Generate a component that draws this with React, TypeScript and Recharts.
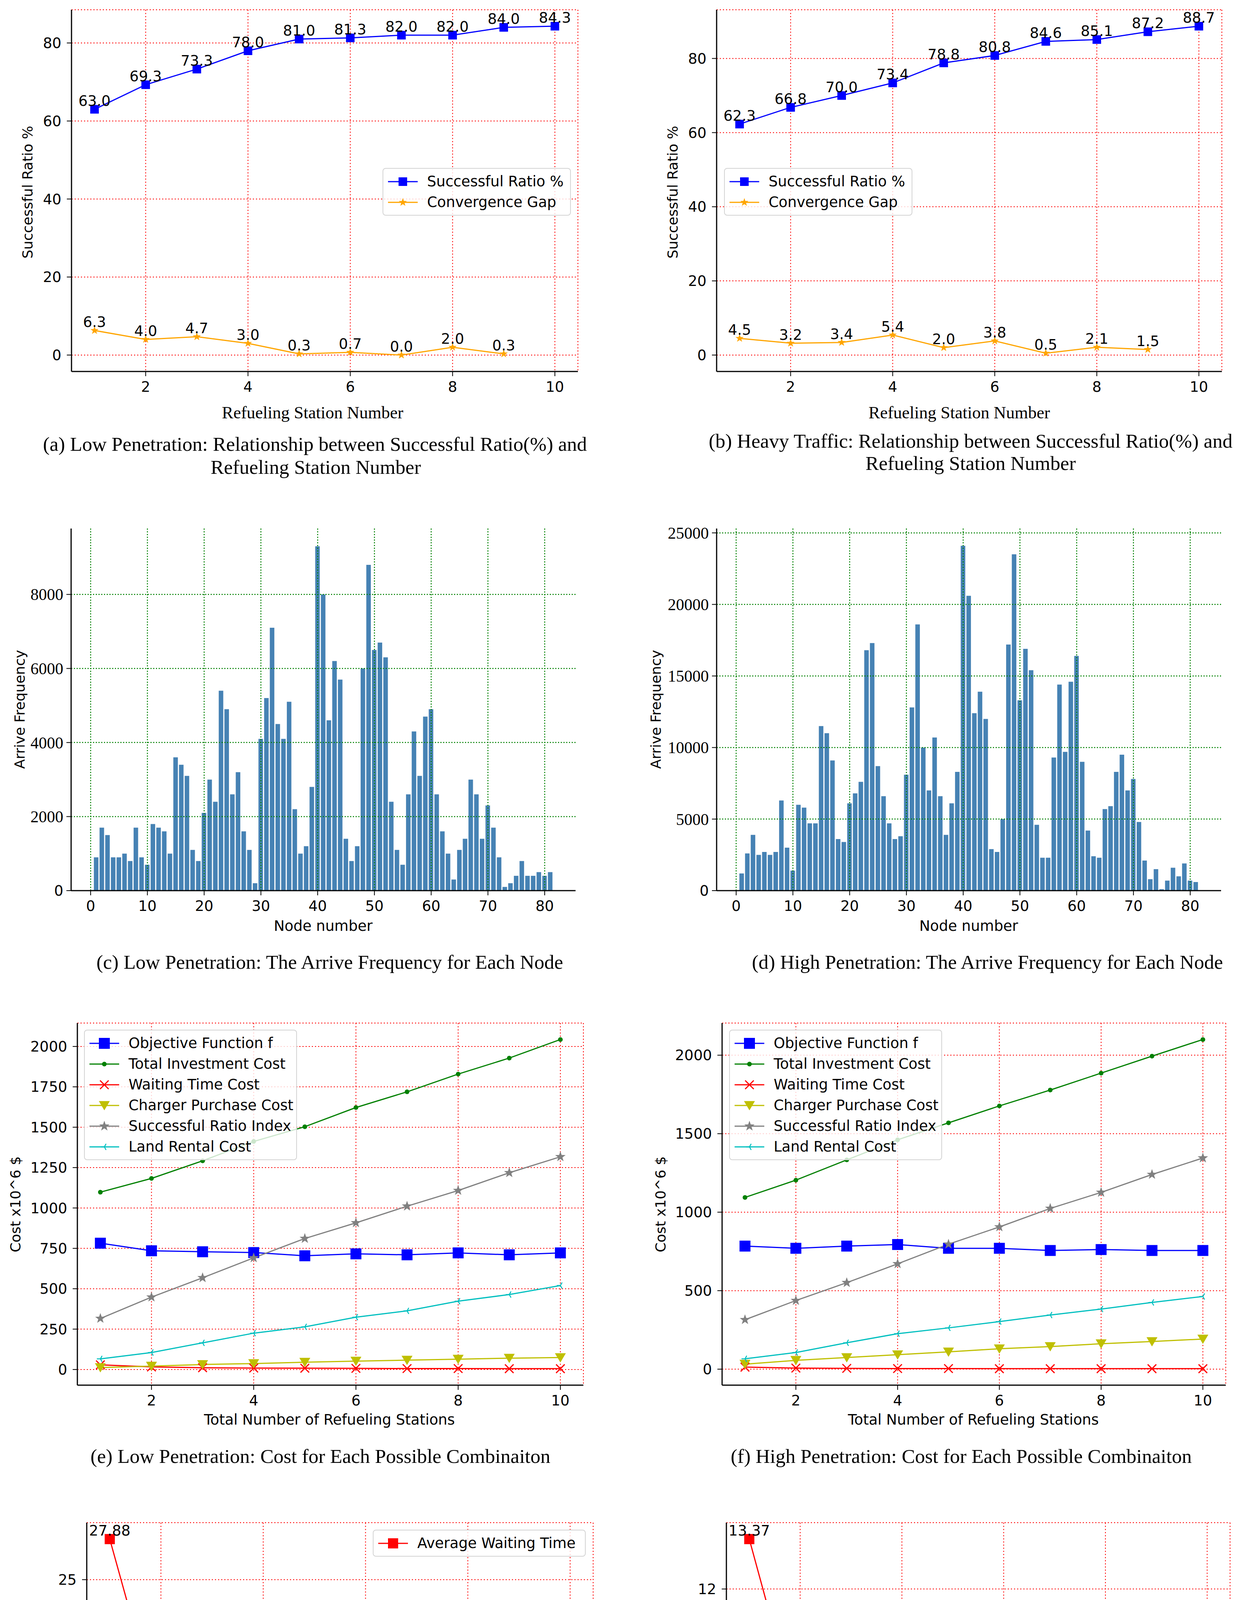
import React from "react";
import {
  LineChart,
  Line,
  BarChart,
  Bar,
  XAxis,
  YAxis,
  CartesianGrid,
  ReferenceLine,
  LabelList,
  Legend,
} from "recharts";

const SANS = "'DejaVu Sans', sans-serif";
const SERIF = "'Liberation Serif', 'Times New Roman', serif";

// ---------- data ----------
const stations = [1, 2, 3, 4, 5, 6, 7, 8, 9, 10];
const stationTicks = [2, 4, 6, 8, 10];

// (a) low penetration / (b) heavy traffic
const lowRatio = [63.0, 69.3, 73.3, 78.0, 81.0, 81.3, 82.0, 82.0, 84.0, 84.3];
const lowGap = [6.3, 4.0, 4.7, 3.0, 0.3, 0.7, 0.0, 2.0, 0.3, null];
const heavyRatio = [62.3, 66.8, 70.0, 73.4, 78.8, 80.8, 84.6, 85.1, 87.2, 88.7];
const heavyGap = [4.5, 3.2, 3.4, 5.4, 2.0, 3.8, 0.5, 2.1, 1.5, null];
const ratioTicks = [0, 20, 40, 60, 80];

// (c) / (d) arrive frequency per node
const nodes = [
  1, 2, 3, 4, 5, 6, 7, 8, 9, 10, 11, 12, 13, 14, 15, 16, 17, 18, 19, 20,
  21, 22, 23, 24, 25, 26, 27, 28, 29, 30, 31, 32, 33, 34, 35, 36, 37, 38, 39, 40,
  41, 42, 43, 44, 45, 46, 47, 48, 49, 50, 51, 52, 53, 54, 55, 56, 57, 58, 59, 60,
  61, 62, 63, 64, 65, 66, 67, 68, 69, 70, 71, 72, 73, 74, 75, 76, 77, 78, 79, 80, 81,
];
const lowArrive = [
  900, 1700, 1500, 900, 900, 1000, 800, 1700, 900, 700,
  1800, 1700, 1600, 1000, 3600, 3400, 3100, 1100, 800, 2100,
  3000, 2400, 5400, 4900, 2600, 3200, 1600, 1100, 200, 4100,
  5200, 7100, 4500, 4100, 5100, 2200, 1000, 1200, 2800, 9300,
  8000, 4600, 6200, 5700, 1400, 800, 1200, 6000, 8800, 6500,
  6700, 6300, 2400, 1100, 700, 2600, 4300, 3100, 4700, 4900,
  2600, 1600, 1000, 300, 1100, 1400, 3000, 2600, 1400, 2300,
  1700, 900, 100, 200, 400, 800, 400, 400, 500, 400, 500,
];
const highArrive = [
  1200, 2600, 3900, 2500, 2700, 2500, 2700, 6300, 3000, 1400,
  6000, 5800, 4700, 4700, 11500, 11000, 9100, 3600, 3400, 6100,
  6800, 7600, 16800, 17300, 8700, 6600, 4700, 3600, 3800, 8100,
  12800, 18600, 10000, 7000, 10700, 6600, 3900, 6100, 8300, 24100,
  20600, 12400, 13900, 12000, 2900, 2700, 5000, 17200, 23500, 13300,
  16900, 15400, 4600, 2300, 2300, 9300, 14400, 9700, 14600, 16400,
  9000, 4200, 2400, 2300, 5700, 5900, 8300, 9500, 7000, 7800,
  4800, 2100, 800, 1500, 100, 700, 1600, 1000, 1900, 700, 600,
];
const nodeTicks = [0, 10, 20, 30, 40, 50, 60, 70, 80];
const lowFreqTicks = [0, 2000, 4000, 6000, 8000];
const highFreqTicks = [0, 5000, 10000, 15000, 20000, 25000];

// (e) / (f) costs
const lowObjective = [782, 735, 729, 724, 704, 716, 710, 722, 710, 722];
const lowInvestment = [1098, 1183, 1292, 1412, 1503, 1622, 1719, 1829, 1928, 2043];
const lowWaitingCost = [29, 16, 11, 9, 8, 7, 6, 6, 5, 5];
const lowCharger = [12, 21, 31, 37, 45, 52, 58, 64, 70, 74];
const lowSuccessIndex = [316, 448, 568, 691, 811, 908, 1011, 1108, 1218, 1317];
const lowLandRental = [66, 105, 165, 225, 264, 324, 363, 423, 464, 520];

const highObjective = [784, 770, 784, 794, 770, 770, 756, 762, 756, 756];
const highInvestment = [1094, 1204, 1333, 1461, 1569, 1677, 1778, 1886, 1994, 2100];
const highWaitingCost = [13, 7, 5, 4, 4, 3, 3, 3, 3, 3];
const highCharger = [32, 56, 74, 92, 110, 130, 144, 162, 176, 192];
const highSuccessIndex = [315, 437, 551, 671, 796, 906, 1024, 1126, 1240, 1345];
const highLandRental = [66, 106, 168, 226, 263, 303, 345, 383, 425, 463];

const lowCostTicks = [0, 250, 500, 750, 1000, 1250, 1500, 1750, 2000];
const highCostTicks = [0, 500, 1000, 1500, 2000];

// (g) / (h) average waiting time
const lowWaitTime = [27.88, 14.81, 10.58, 8.53, 7.27, 6.39, 5.74, 5.24, 4.85, 4.54];
const highWaitTime = [13.37, 8.25, 6.67, 5.88, 5.4, 5.06, 4.81, 4.61, 4.46, 4.34];
const lowWaitTicks = [5, 10, 15, 20, 25];
const highWaitTicks = [4, 6, 8, 10, 12];

// ---------- layout ----------
const PAD = { l: 170, t: 20, r: 40, b: 70 };
const X_DOMAIN = [0.55, 10.45];
const NODE_DOMAIN = [-3.44, 85.44];

const axisLine = { stroke: "#000", strokeWidth: 3 };
const tickLine = { stroke: "#000", strokeWidth: 2 };
const tickFont = { fontSize: 37, fill: "#000", fontFamily: SANS };

function frameOf(plot: number[]) {
  const [x0, y0, x1, y1] = plot;
  return {
    left: x0 - PAD.l,
    top: y0 - PAD.t,
    width: x1 - x0 + PAD.l + PAD.r,
    height: y1 - y0 + PAD.t + PAD.b,
  };
}

function starPoints(cx: number, cy: number, R: number) {
  const pts: string[] = [];
  for (let i = 0; i < 10; i++) {
    const r = i % 2 === 0 ? R : R * 0.4;
    const a = -Math.PI / 2 + (i * Math.PI) / 5;
    pts.push(`${cx + r * Math.cos(a)},${cy + r * Math.sin(a)}`);
  }
  return pts.join(" ");
}

function Marker({ kind, cx, cy, size, color }: any) {
  const h = size / 2;
  if (kind === "square")
    return <rect x={cx - h} y={cy - h} width={size} height={size} fill={color} />;
  if (kind === "dot") return <circle cx={cx} cy={cy} r={h} fill={color} />;
  if (kind === "x")
    return (
      <g stroke={color} strokeWidth={3}>
        <line x1={cx - h} y1={cy - h} x2={cx + h} y2={cy + h} />
        <line x1={cx - h} y1={cy + h} x2={cx + h} y2={cy - h} />
      </g>
    );
  if (kind === "vtri")
    return (
      <polygon
        points={`${cx - h},${cy - h * 0.8} ${cx + h},${cy - h * 0.8} ${cx},${cy + h * 0.9}`}
        fill={color}
      />
    );
  if (kind === "star") return <polygon points={starPoints(cx, cy, h)} fill={color} />;
  if (kind === "tri")
    return (
      <g stroke={color} strokeWidth={2.5}>
        <line x1={cx} y1={cy} x2={cx - h} y2={cy} />
        <line x1={cx} y1={cy} x2={cx + h * 0.5} y2={cy - h * 0.87} />
        <line x1={cx} y1={cy} x2={cx + h * 0.5} y2={cy + h * 0.87} />
      </g>
    );
  return null;
}

const dotOf = (kind: string, size: number, color: string) => (p: any) => {
  if (typeof p.cy !== "number" || isNaN(p.cy) || p.value == null)
    return <g key={`d${p.index}`} />;
  return <Marker key={`d${p.index}`} kind={kind} cx={p.cx} cy={p.cy} size={size} color={color} />;
};

const valueLabel = (fmt: (v: number) => string) => (p: any) => {
  const { x, y, value } = p;
  if (value == null || typeof x !== "number" || typeof y !== "number") return null;
  return (
    <text x={x} y={y - 9} textAnchor="middle" fontSize={37} fontFamily={SANS} fill="#000">
      {fmt(value)}
    </text>
  );
};

function LegendBox({ items, width }: any) {
  return (
    <div
      style={{
        background: "rgba(255,255,255,0.8)",
        border: "2px solid #d4d4d4",
        borderRadius: 8,
        padding: "6px 12px",
        width,
        boxSizing: "border-box",
      }}
    >
      {items.map((it: any) => (
        <div key={it.label} style={{ display: "flex", alignItems: "center", height: 53 }}>
          <svg width={76} height={40} style={{ flex: "none" }}>
            <line x1={0} y1={20} x2={76} y2={20} stroke={it.color} strokeWidth={3} />
            <Marker kind={it.marker} cx={38} cy={20} size={it.size} color={it.color} />
          </svg>
          <span
            style={{
              marginLeft: 24,
              fontFamily: SANS,
              fontSize: 37,
              color: "#000",
              whiteSpace: "nowrap",
            }}
          >
            {it.label}
          </span>
        </div>
      ))}
    </div>
  );
}

function Txt({ x, y, size, font = SANS, rotate = false, children }: any) {
  return (
    <div
      style={{
        position: "absolute",
        left: x,
        top: y,
        transform: `translate(-50%, -50%)${rotate ? " rotate(-90deg)" : ""}`,
        fontFamily: font,
        fontSize: size,
        lineHeight: 1,
        whiteSpace: "nowrap",
        color: "#000",
      }}
    >
      {children}
    </div>
  );
}

// ---------- charts ----------
function RatioChart({ plot, ratio, gap, yDomain, legend }: any) {
  const f = frameOf(plot);
  const data = stations.map((s, i) => ({ x: s, ratio: ratio[i], gap: gap[i] }));
  const items = [
    { label: "Successful Ratio %", color: "#0000ff", marker: "square", size: 22 },
    { label: "Convergence Gap", color: "#ffa500", marker: "star", size: 22 },
  ];
  return (
    <div style={{ position: "absolute", left: f.left, top: f.top }}>
      <LineChart
        width={f.width}
        height={f.height}
        data={data}
        margin={{ top: PAD.t, right: PAD.r, left: 0, bottom: 0 }}
      >
        <CartesianGrid stroke="#ff0000" strokeDasharray="3 5" strokeWidth={2} />
        <XAxis dataKey="x" type="number" domain={X_DOMAIN} ticks={stationTicks} allowDataOverflow
          height={PAD.b} tick={tickFont} tickSize={12} tickMargin={14} axisLine={axisLine}
          tickLine={tickLine} interval={0} />
        <XAxis xAxisId="top" orientation="top" dataKey="x" type="number" domain={X_DOMAIN}
          allowDataOverflow height={0} tick={false} tickLine={false} axisLine={axisLine} />
        <YAxis type="number" domain={yDomain} ticks={ratioTicks} allowDataOverflow width={PAD.l}
          tick={tickFont} tickSize={12} tickMargin={14} axisLine={axisLine} tickLine={tickLine}
          interval={0} />
        <YAxis yAxisId="right" orientation="right" type="number" domain={yDomain}
          allowDataOverflow width={0} tick={false} tickLine={false} axisLine={axisLine} />
        <Line dataKey="ratio" stroke="#0000ff" strokeWidth={3} isAnimationActive={false}
          dot={dotOf("square", 22, "#0000ff")} activeDot={false}>
          <LabelList dataKey="ratio" content={valueLabel((v) => v.toFixed(1))} />
        </Line>
        <Line dataKey="gap" stroke="#ffa500" strokeWidth={3} isAnimationActive={false}
          dot={dotOf("star", 22, "#ffa500")} activeDot={false}>
          <LabelList dataKey="gap" content={valueLabel((v) => v.toFixed(1))} />
        </Line>
        <Legend verticalAlign="middle" layout="horizontal"
          wrapperStyle={{ left: legend[0] - f.left, top: legend[1] - f.top, width: 482 }}
          content={() => <LegendBox items={items} width={482} />} />
      </LineChart>
    </div>
  );
}

function FreqTick(props: any) {
  const { x, y, payload } = props;
  const zero = payload.value === 0;
  return (
    <text x={x} y={y} dy="0.35em" textAnchor="end" fill="#000"
      fontFamily={zero ? SANS : SERIF} fontSize={zero ? 37 : 42}>
      {payload.value}
    </text>
  );
}

function FreqChart({ plot, values, yDomain, yTicks }: any) {
  const f = frameOf(plot);
  const data = nodes.map((n, i) => ({ x: n, v: values[i] }));
  const barW = ((plot[2] - plot[0]) / (NODE_DOMAIN[1] - NODE_DOMAIN[0])) * 0.8;
  const gridStyle = { stroke: "#008000", strokeDasharray: "3 4", strokeWidth: 2.5 };
  return (
    <div style={{ position: "absolute", left: f.left, top: f.top }}>
      <BarChart
        width={f.width}
        height={f.height}
        data={data}
        margin={{ top: PAD.t, right: PAD.r, left: 0, bottom: 0 }}
      >
        <XAxis dataKey="x" type="number" domain={NODE_DOMAIN} ticks={nodeTicks} allowDataOverflow
          height={PAD.b} tick={tickFont} tickSize={12} tickMargin={14} axisLine={axisLine}
          tickLine={tickLine} interval={0} />
        <XAxis xAxisId="top" orientation="top" dataKey="x" type="number" domain={NODE_DOMAIN}
          allowDataOverflow height={0} tick={false} tickLine={false} axisLine={axisLine} />
        <YAxis type="number" domain={yDomain} ticks={yTicks} allowDataOverflow width={PAD.l}
          tick={<FreqTick />} tickSize={12} tickMargin={8} axisLine={axisLine} tickLine={tickLine}
          interval={0} />
        <YAxis yAxisId="right" orientation="right" type="number" domain={yDomain}
          allowDataOverflow width={0} tick={false} tickLine={false} axisLine={axisLine} />
        <Bar dataKey="v" fill="#4682b4" barSize={barW} isAnimationActive={false} />
        {nodeTicks.map((t) => (
          <ReferenceLine key={`vx${t}`} x={t} {...gridStyle} />
        ))}
        {yTicks.filter((t: number) => t > 0).map((t: number) => (
          <ReferenceLine key={`hy${t}`} y={t} {...gridStyle} />
        ))}
      </BarChart>
    </div>
  );
}

function CostChart({ plot, series, yDomain, yTicks, legend }: any) {
  const f = frameOf(plot);
  const data = stations.map((s, i) => ({
    x: s,
    obj: series.obj[i],
    inv: series.inv[i],
    wait: series.wait[i],
    charger: series.charger[i],
    success: series.success[i],
    land: series.land[i],
  }));
  const items = [
    { key: "obj", label: "Objective Function f", color: "#0000ff", marker: "square", size: 28 },
    { key: "inv", label: "Total Investment Cost", color: "#008000", marker: "dot", size: 12 },
    { key: "wait", label: "Waiting Time Cost", color: "#ff0000", marker: "x", size: 22 },
    { key: "charger", label: "Charger Purchase Cost", color: "#bfbf00", marker: "vtri", size: 28 },
    { key: "success", label: "Successful Ratio Index", color: "#808080", marker: "star", size: 28 },
    { key: "land", label: "Land Rental Cost", color: "#00bfbf", marker: "tri", size: 18 },
  ];
  return (
    <div style={{ position: "absolute", left: f.left, top: f.top }}>
      <LineChart
        width={f.width}
        height={f.height}
        data={data}
        margin={{ top: PAD.t, right: PAD.r, left: 0, bottom: 0 }}
      >
        <CartesianGrid stroke="#ff0000" strokeDasharray="3 5" strokeWidth={2} />
        <XAxis dataKey="x" type="number" domain={X_DOMAIN} ticks={stationTicks} allowDataOverflow
          height={PAD.b} tick={tickFont} tickSize={12} tickMargin={14} axisLine={axisLine}
          tickLine={tickLine} interval={0} />
        <XAxis xAxisId="top" orientation="top" dataKey="x" type="number" domain={X_DOMAIN}
          allowDataOverflow height={0} tick={false} tickLine={false} axisLine={axisLine} />
        <YAxis type="number" domain={yDomain} ticks={yTicks} allowDataOverflow width={PAD.l}
          tick={tickFont} tickSize={12} tickMargin={14} axisLine={axisLine} tickLine={tickLine}
          interval={0} />
        <YAxis yAxisId="right" orientation="right" type="number" domain={yDomain}
          allowDataOverflow width={0} tick={false} tickLine={false} axisLine={axisLine} />
        {items.map((it) => (
          <Line key={it.key} dataKey={it.key} stroke={it.color} strokeWidth={3}
            isAnimationActive={false} dot={dotOf(it.marker, it.size, it.color)} activeDot={false} />
        ))}
        <Legend verticalAlign="middle" layout="horizontal"
          wrapperStyle={{ left: legend[0] - f.left, top: legend[1] - f.top, width: 545 }}
          content={() => <LegendBox items={items} width={545} />} />
      </LineChart>
    </div>
  );
}

function WaitChart({ plot, values, yDomain, yTicks, legend }: any) {
  const f = frameOf(plot);
  const data = stations.map((s, i) => ({ x: s, wait: values[i] }));
  const items = [{ label: "Average Waiting Time", color: "#ff0000", marker: "square", size: 26 }];
  return (
    <div style={{ position: "absolute", left: f.left, top: f.top }}>
      <LineChart
        width={f.width}
        height={f.height}
        data={data}
        margin={{ top: PAD.t, right: PAD.r, left: 0, bottom: 0 }}
      >
        <CartesianGrid stroke="#ff0000" strokeDasharray="3 5" strokeWidth={2} />
        <XAxis dataKey="x" type="number" domain={X_DOMAIN} ticks={stationTicks} allowDataOverflow
          height={PAD.b} tick={tickFont} tickSize={12} tickMargin={14} axisLine={axisLine}
          tickLine={tickLine} interval={0} />
        <XAxis xAxisId="top" orientation="top" dataKey="x" type="number" domain={X_DOMAIN}
          allowDataOverflow height={0} tick={false} tickLine={false} axisLine={axisLine} />
        <YAxis type="number" domain={yDomain} ticks={yTicks} allowDataOverflow width={PAD.l}
          tick={tickFont} tickSize={12} tickMargin={14} axisLine={axisLine} tickLine={tickLine}
          interval={0} />
        <YAxis yAxisId="right" orientation="right" type="number" domain={yDomain}
          allowDataOverflow width={0} tick={false} tickLine={false} axisLine={axisLine} />
        <Line dataKey="wait" stroke="#ff0000" strokeWidth={3} isAnimationActive={false}
          dot={dotOf("square", 26, "#ff0000")} activeDot={false}>
          <LabelList dataKey="wait" content={valueLabel((v) => String(v))} />
        </Line>
        <Legend verticalAlign="middle" layout="horizontal"
          wrapperStyle={{ left: legend[0] - f.left, top: legend[1] - f.top, width: 545 }}
          content={() => <LegendBox items={items} width={545} />} />
      </LineChart>
    </div>
  );
}

export default function App() {
  const CAP = 51;
  return (
    <div
      style={{
        position: "relative",
        margin: -8,
        width: 3176,
        height: 5084,
        background: "#fff",
        overflow: "hidden",
      }}
    >
      {/* (a) */}
      <RatioChart plot={[183, 25, 1479, 951]} ratio={lowRatio} gap={lowGap}
        yDomain={[-4.215, 88.515]} legend={[979, 430]} />
      <Txt x={71} y={492} size={36} rotate>Successful Ratio %</Txt>
      <Txt x={800} y={1057} size={44} font={SERIF}>Refueling Station Number</Txt>
      <Txt x={806} y={1137} size={CAP} font={SERIF}>
        (a) Low Penetration: Relationship between Successful Ratio(%) and
      </Txt>
      <Txt x={808} y={1196} size={CAP} font={SERIF}>Refueling Station Number</Txt>

      {/* (b) */}
      <RatioChart plot={[1834, 25, 3127, 951]} ratio={heavyRatio} gap={heavyGap}
        yDomain={[-4.435, 93.135]} legend={[1853, 430]} />
      <Txt x={1722} y={492} size={36} rotate>Successful Ratio %</Txt>
      <Txt x={2455} y={1057} size={44} font={SERIF}>Refueling Station Number</Txt>
      <Txt x={2484} y={1129} size={CAP} font={SERIF}>
        (b) Heavy Traffic: Relationship between Successful Ratio(%) and
      </Txt>
      <Txt x={2484} y={1186} size={CAP} font={SERIF}>Refueling Station Number</Txt>

      {/* (c) */}
      <FreqChart plot={[182, 1353, 1473, 2280]} values={lowArrive} yDomain={[0, 9780]}
        yTicks={lowFreqTicks} />
      <Txt x={51} y={1816} size={36} rotate>Arrive Frequency</Txt>
      <Txt x={827} y={2370} size={37}>Node number</Txt>
      <Txt x={844} y={2463} size={CAP} font={SERIF}>
        (c) Low Penetration: The Arrive Frequency for Each Node
      </Txt>

      {/* (d) */}
      <FreqChart plot={[1834, 1353, 3125, 2280]} values={highArrive} yDomain={[0, 25305]}
        yTicks={highFreqTicks} />
      <Txt x={1679} y={1816} size={36} rotate>Arrive Frequency</Txt>
      <Txt x={2479} y={2370} size={37}>Node number</Txt>
      <Txt x={2527} y={2463} size={CAP} font={SERIF}>
        (d) High Penetration: The Arrive Frequency for Each Node
      </Txt>

      {/* (e) */}
      <CostChart plot={[198, 2619, 1493, 3546]}
        series={{ obj: lowObjective, inv: lowInvestment, wait: lowWaitingCost,
          charger: lowCharger, success: lowSuccessIndex, land: lowLandRental }}
        yDomain={[-96.9, 2144.9]} yTicks={lowCostTicks} legend={[215, 2636]} />
      <Txt x={40} y={3083} size={36} rotate>Cost x10^6 $</Txt>
      <Txt x={843} y={3634} size={37}>Total Number of Refueling Stations</Txt>
      <Txt x={820} y={3728} size={CAP} font={SERIF}>
        (e) Low Penetration: Cost for Each Possible Combinaiton
      </Txt>

      {/* (f) */}
      <CostChart plot={[1848, 2619, 3137, 3546]}
        series={{ obj: highObjective, inv: highInvestment, wait: highWaitingCost,
          charger: highCharger, success: highSuccessIndex, land: highLandRental }}
        yDomain={[-101.85, 2204.85]} yTicks={highCostTicks} legend={[1866, 2636]} />
      <Txt x={1691} y={3083} size={36} rotate>Cost x10^6 $</Txt>
      <Txt x={2491} y={3634} size={37}>Total Number of Refueling Stations</Txt>
      <Txt x={2460} y={3728} size={CAP} font={SERIF}>
        (f) High Penetration: Cost for Each Possible Combinaiton
      </Txt>

      {/* (g) */}
      <WaitChart plot={[222, 3898, 1518, 4824]} values={lowWaitTime}
        yDomain={[3.373, 29.047]} yTicks={lowWaitTicks} legend={[954, 3916]} />
      <Txt x={111} y={4359} size={36} rotate>Time (min)</Txt>
      <Txt x={858} y={4912} size={37}>Total Number of Refueling Stations</Txt>
      <Txt x={847} y={4982} size={CAP} font={SERIF}>
        (g) Low Penetration: The Relationship Between Waiting Time and
      </Txt>
      <Txt x={848} y={5040} size={CAP} font={SERIF}>The Total Number of Refueling Station</Txt>

      {/* (h) */}
      <WaitChart plot={[1859, 3898, 3148, 4824]} values={highWaitTime}
        yDomain={[3.8885, 13.8215]} yTicks={highWaitTicks} legend={[1878, 4329]} />
      <Txt x={1747} y={4359} size={36} rotate>Time (min)</Txt>
      <Txt x={2491} y={4912} size={37}>Total Number of Refueling Stations</Txt>
      <Txt x={2482} y={4982} size={CAP} font={SERIF}>
        (h) High Penetration: The Relationship Between Waiting Time and
      </Txt>
      <Txt x={2482} y={5040} size={CAP} font={SERIF}>The Total Number of Refueling Station</Txt>
    </div>
  );
}
